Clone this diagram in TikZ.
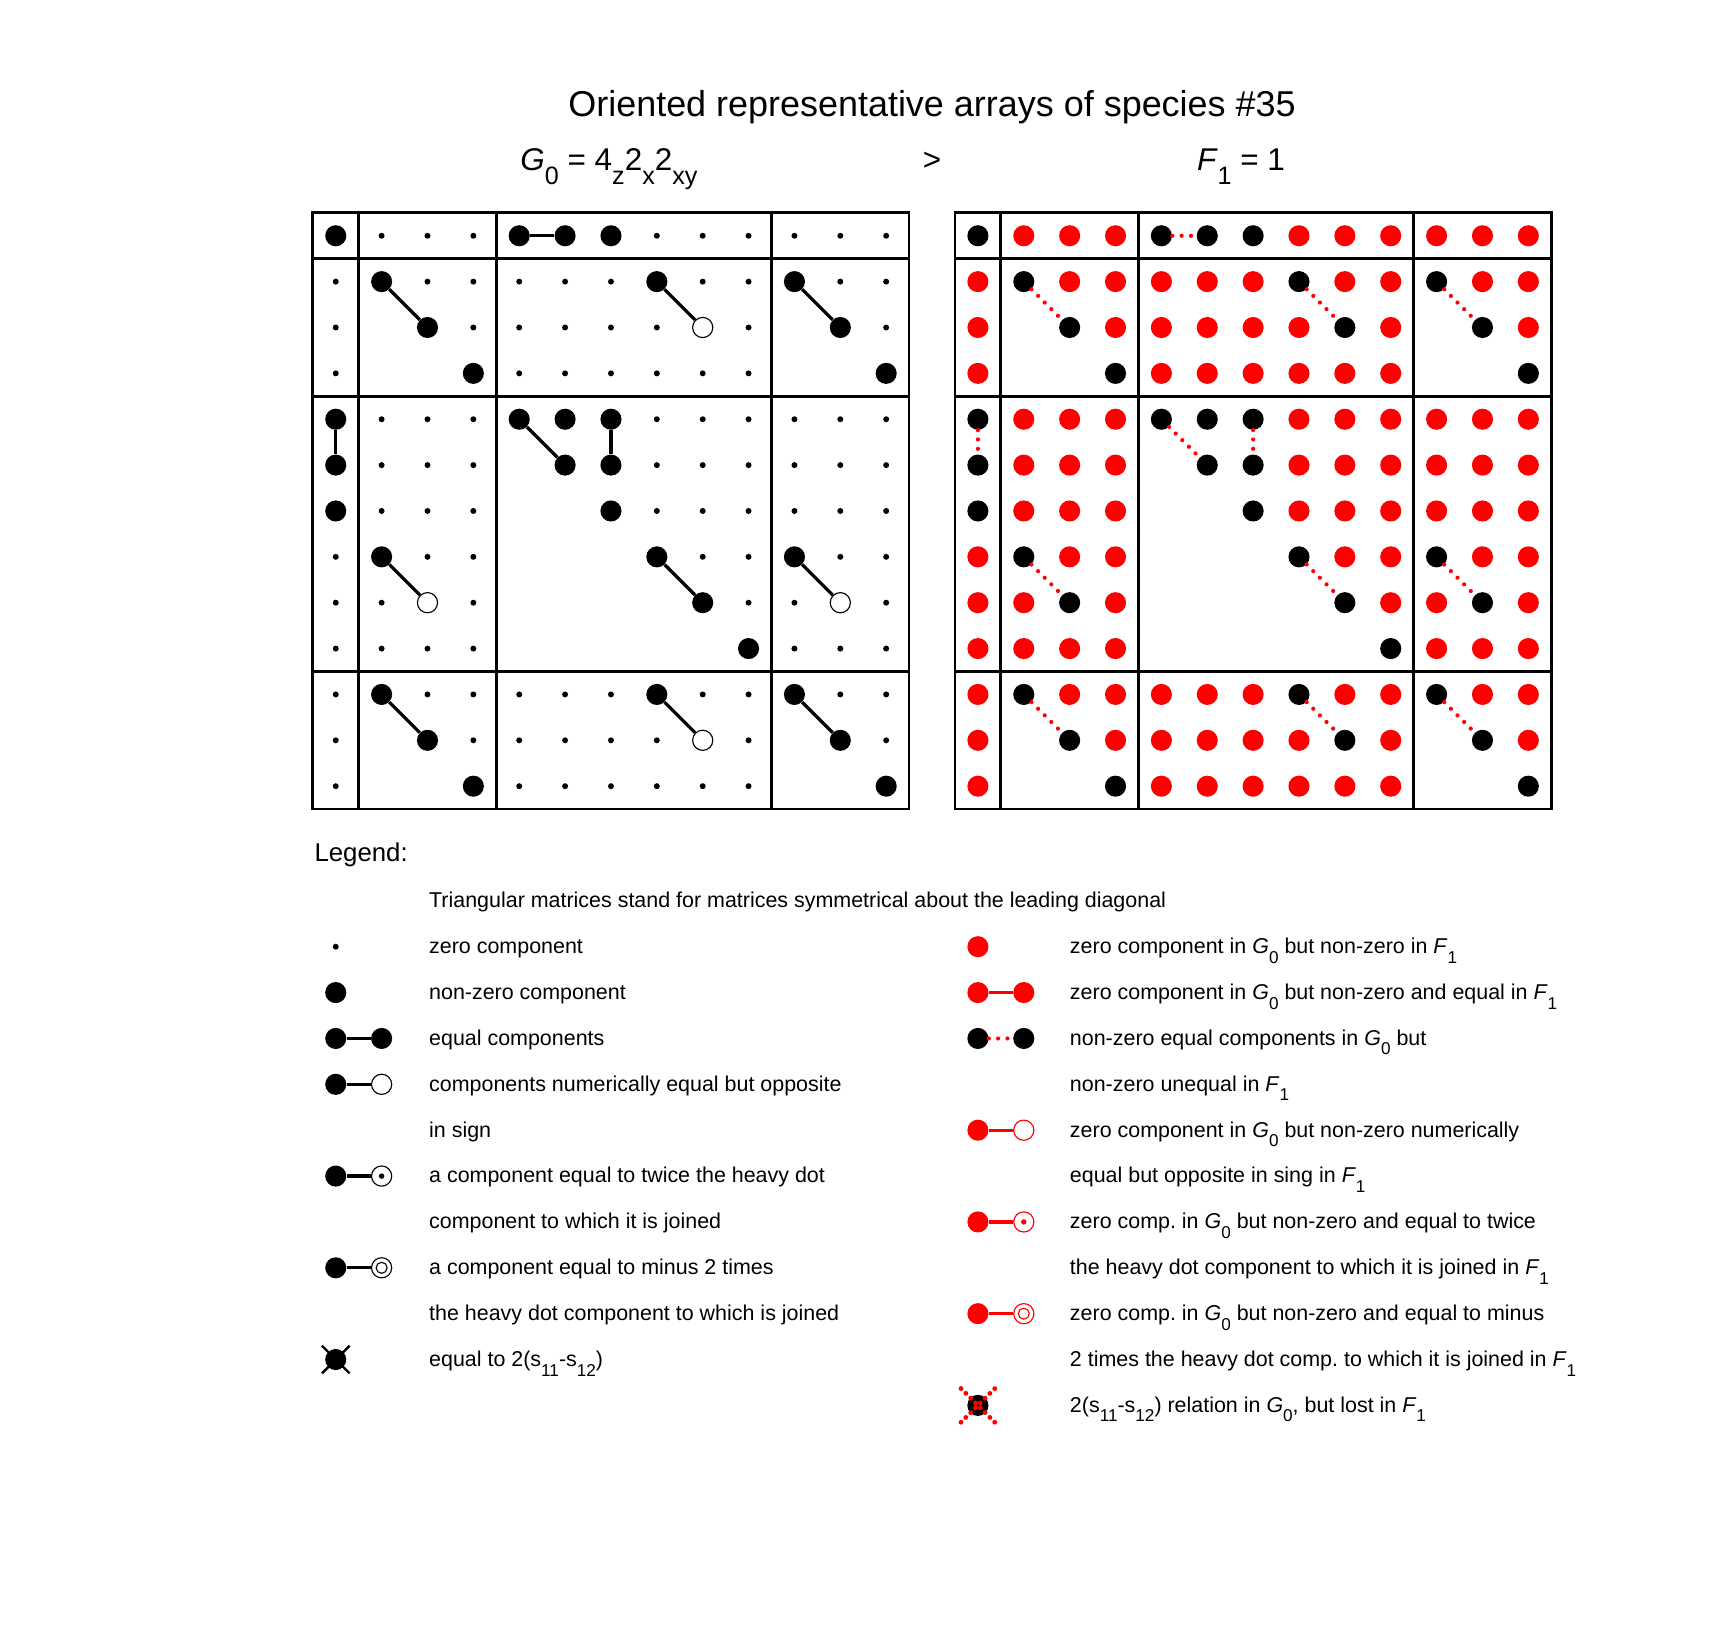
\documentclass[tikz,border=0pt]{standalone}
\usepackage{fontspec}
\setmainfont{Liberation Sans}
\usetikzlibrary{shapes.misc}
\frenchspacing

\newcommand{\lowsub}[1]{\raisebox{-0.85ex}{\scalebox{0.8}{#1}}}
\newcommand{\gzero}{\textit{G}\lowsub{0}}
\newcommand{\fone}{\textit{F}\lowsub{1}}

\tikzset{
  dot-z/.style={circle, fill=black, inner sep=0pt, minimum size=0.13cm},
  dot-n/.style={circle, fill=black, inner sep=0pt, minimum size=0.46cm},
  dot-k/.style={dot-n},
  dot-r/.style={dot-n, fill=red},
  dot-x/.style={inner sep=0pt, minimum size=0pt},
  dot-o/.style={circle, draw=#1, fill=white, line width=0.7pt, inner sep=0pt, minimum size=0.44cm},
  dot-o/.default=black,
  dot-t/.style={dot-o=#1, path picture={\fill[#1] (path picture bounding box.center) circle (0.06);}},
  dot-t/.default=black,
  dot-m/.style={dot-o=#1, path picture={\draw[#1, line width=0.7pt] (path picture bounding box.center) circle (0.12);}},
  dot-m/.default=black,
  crossmark/.style={cross out, draw=black, line width=1.5pt, inner sep=0pt, minimum size=0.55cm},
  lostmark/.style={cross out, draw=red, line width=3pt, line cap=round, dash pattern=on 0pt off 4.22pt, inner sep=0pt, minimum size=0.63cm},
  eqline/.style={line width=2pt},
  redline/.style={eqline, red},
  lostline/.style={red, line width=2.6pt, line cap=round, dash pattern=on 0pt off 5.8pt},
  frame/.style={line width=1.7pt},
  legtext/.style={anchor=base west, inner sep=0pt, font=\fontsize{13.3}{16}\selectfont},
  headtext/.style={inner sep=0pt, font=\fontsize{19.5}{23}\selectfont},
}

\begin{document}
\begin{tikzpicture}
\fill[white] (-6.82,4.64) rectangle (30.57,-30.81);
\useasboundingbox (-6.82,4.64) rectangle (30.57,-30.81);

% Titles
\node[inner sep=0pt, anchor=base, font=\fontsize{22.3}{26}\selectfont] (title) at (13.5,2.09) {Oriented representative arrays of species \#35};
\node[headtext, anchor=base west] (gname) at (4.52,0.92) {\textit{G}\lowsub{0} = 4\lowsub{z}2\lowsub{x}2\lowsub{xy}};
\node[headtext, anchor=base]      (gt)    at (13.5,0.92) {>};
\node[headtext, anchor=base west] (fname) at (19.27,0.92) {\textit{F}\lowsub{1} = 1};

% Frames
\foreach \x in {0,14} {
  \draw[frame] (\x,0) rectangle (\x+13,-13);
  \foreach \k in {1,4,10} {
    \draw[frame] (\x+\k,0) -- (\x+\k,-13);
    \draw[frame] (\x,-\k) -- (\x+13,-\k);
  }
}

% Define nodes
\foreach \row [count=\r from 0] in {
  {n,z,z,z,n,n,n,z,z,z,z,z,z},
  {z,n,z,z,z,z,z,n,z,z,n,z,z},
  {z,x,n,z,z,z,z,z,o,z,x,n,z},
  {z,x,x,n,z,z,z,z,z,z,x,x,n},
  {n,z,z,z,n,n,n,z,z,z,z,z,z},
  {n,z,z,z,x,n,n,z,z,z,z,z,z},
  {n,z,z,z,x,x,n,z,z,z,z,z,z},
  {z,n,z,z,x,x,x,n,z,z,n,z,z},
  {z,z,o,z,x,x,x,x,n,z,z,o,z},
  {z,z,z,z,x,x,x,x,x,n,z,z,z},
  {z,n,z,z,z,z,z,n,z,z,n,z,z},
  {z,x,n,z,z,z,z,z,o,z,x,n,z},
  {z,x,x,n,z,z,z,z,z,z,x,x,n}} {
  \foreach \t [count=\c from 0] in \row
    \node[dot-\t] (L-\r-\c) at (\c+0.5,-\r-0.5) {};
}
\foreach \row [count=\r from 0] in {
  {k,r,r,r,k,k,k,r,r,r,r,r,r},
  {r,k,r,r,r,r,r,k,r,r,k,r,r},
  {r,x,k,r,r,r,r,r,k,r,x,k,r},
  {r,x,x,k,r,r,r,r,r,r,x,x,k},
  {k,r,r,r,k,k,k,r,r,r,r,r,r},
  {k,r,r,r,x,k,k,r,r,r,r,r,r},
  {k,r,r,r,x,x,k,r,r,r,r,r,r},
  {r,k,r,r,x,x,x,k,r,r,k,r,r},
  {r,r,k,r,x,x,x,x,k,r,r,k,r},
  {r,r,r,r,x,x,x,x,x,k,r,r,r},
  {r,k,r,r,r,r,r,k,r,r,k,r,r},
  {r,x,k,r,r,r,r,r,k,r,x,k,r},
  {r,x,x,k,r,r,r,r,r,r,x,x,k}} {
  \foreach \t [count=\c from 0] in \row
    \node[dot-\t] (R-\r-\c) at (\c+14.5,-\r-0.5) {};
}

% Connect the nodes
\foreach \a/\b in {0-4/0-5, 1-1/2-2, 1-7/2-8, 1-10/2-11, 4-0/5-0, 4-4/5-5, 4-6/5-6,
                   7-1/8-2, 7-7/8-8, 7-10/8-11, 10-1/11-2, 10-7/11-8, 10-10/11-11} {
  \draw[eqline]   (L-\a) -- (L-\b);
  \draw[lostline] (R-\a) -- (R-\b);
}

% Legend
\node[inner sep=0pt, anchor=base west, font=\fontsize{16}{19}\selectfont] (legend) at (0.03,-14.15) {Legend:};
\node[legtext] (tri) at (2.53,-15.14) {Triangular matrices stand for matrices symmetrical about the leading diagonal};

\node[dot-z] (lz)  at (0.5,-16) {};
\node[dot-n] (ln)  at (0.5,-17) {};
\node[dot-n] (le1) at (0.5,-18) {};
\node[dot-n] (le2) at (1.5,-18) {};
\node[dot-n] (lo1) at (0.5,-19) {};
\node[dot-o] (lo2) at (1.5,-19) {};
\node[dot-n] (lt1) at (0.5,-21) {};
\node[dot-t] (lt2) at (1.5,-21) {};
\node[dot-n] (lm1) at (0.5,-23) {};
\node[dot-m] (lm2) at (1.5,-23) {};
\node[crossmark] (lx) at (0.5,-25) {};
\node[dot-n] (lxd) at (lx) {};
\draw[eqline] (le1) -- (le2);
\draw[eqline] (lo1) -- (lo2);
\draw[eqline] (lt1) -- (lt2);
\draw[eqline] (lm1) -- (lm2);

\node[dot-r] (rz)  at (14.5,-16) {};
\node[dot-r] (re1) at (14.5,-17) {};
\node[dot-r] (re2) at (15.5,-17) {};
\node[dot-n] (rd1) at (14.5,-18) {};
\node[dot-n] (rd2) at (15.5,-18) {};
\node[dot-r] (ro1) at (14.5,-20) {};
\node[dot-o=red] (ro2) at (15.5,-20) {};
\node[dot-r] (rt1) at (14.5,-22) {};
\node[dot-t=red] (rt2) at (15.5,-22) {};
\node[dot-r] (rm1) at (14.5,-24) {};
\node[dot-m=red] (rm2) at (15.5,-24) {};
\node[dot-n] (rx) at (14.5,-26) {};
\node[lostmark] (rxm) at (rx) {};
\draw[redline]  (re1) -- (re2);
\draw[lostline] (rd1) -- (rd2);
\draw[redline]  (ro1) -- (ro2);
\draw[redline]  (rt1) -- (rt2);
\draw[redline]  (rm1) -- (rm2);

\foreach \txt [count=\n from 16] in {
  {zero component},
  {non-zero component},
  {equal components},
  {components numerically equal but opposite},
  {in sign},
  {a component equal to twice the heavy dot},
  {component to which it is joined},
  {a component equal to minus 2 times},
  {the heavy dot component to which is joined},
  {equal to 2(s\lowsub{11}-s\lowsub{12})}}
  \node[legtext] (lt-\n) at (2.53,-\n-0.15) {\txt};

\foreach \txt [count=\n from 16] in {
  {zero component in \gzero{} but non-zero in \fone},
  {zero component in \gzero{} but non-zero and equal in \fone},
  {non-zero equal components in \gzero{} but},
  {non-zero unequal in \fone},
  {zero component in \gzero{} but non-zero numerically},
  {equal but opposite in sing in \fone},
  {zero comp. in \gzero{} but non-zero and equal to twice},
  {the heavy dot component to which it is joined in \fone},
  {zero comp. in \gzero{} but non-zero and equal to minus},
  {2 times the heavy dot comp. to which it is joined in \fone},
  {2(s\lowsub{11}-s\lowsub{12}) relation in \gzero, but lost in \fone}}
  \node[legtext] (rt-\n) at (16.5,-\n-0.15) {\txt};

\end{tikzpicture}
\end{document}
